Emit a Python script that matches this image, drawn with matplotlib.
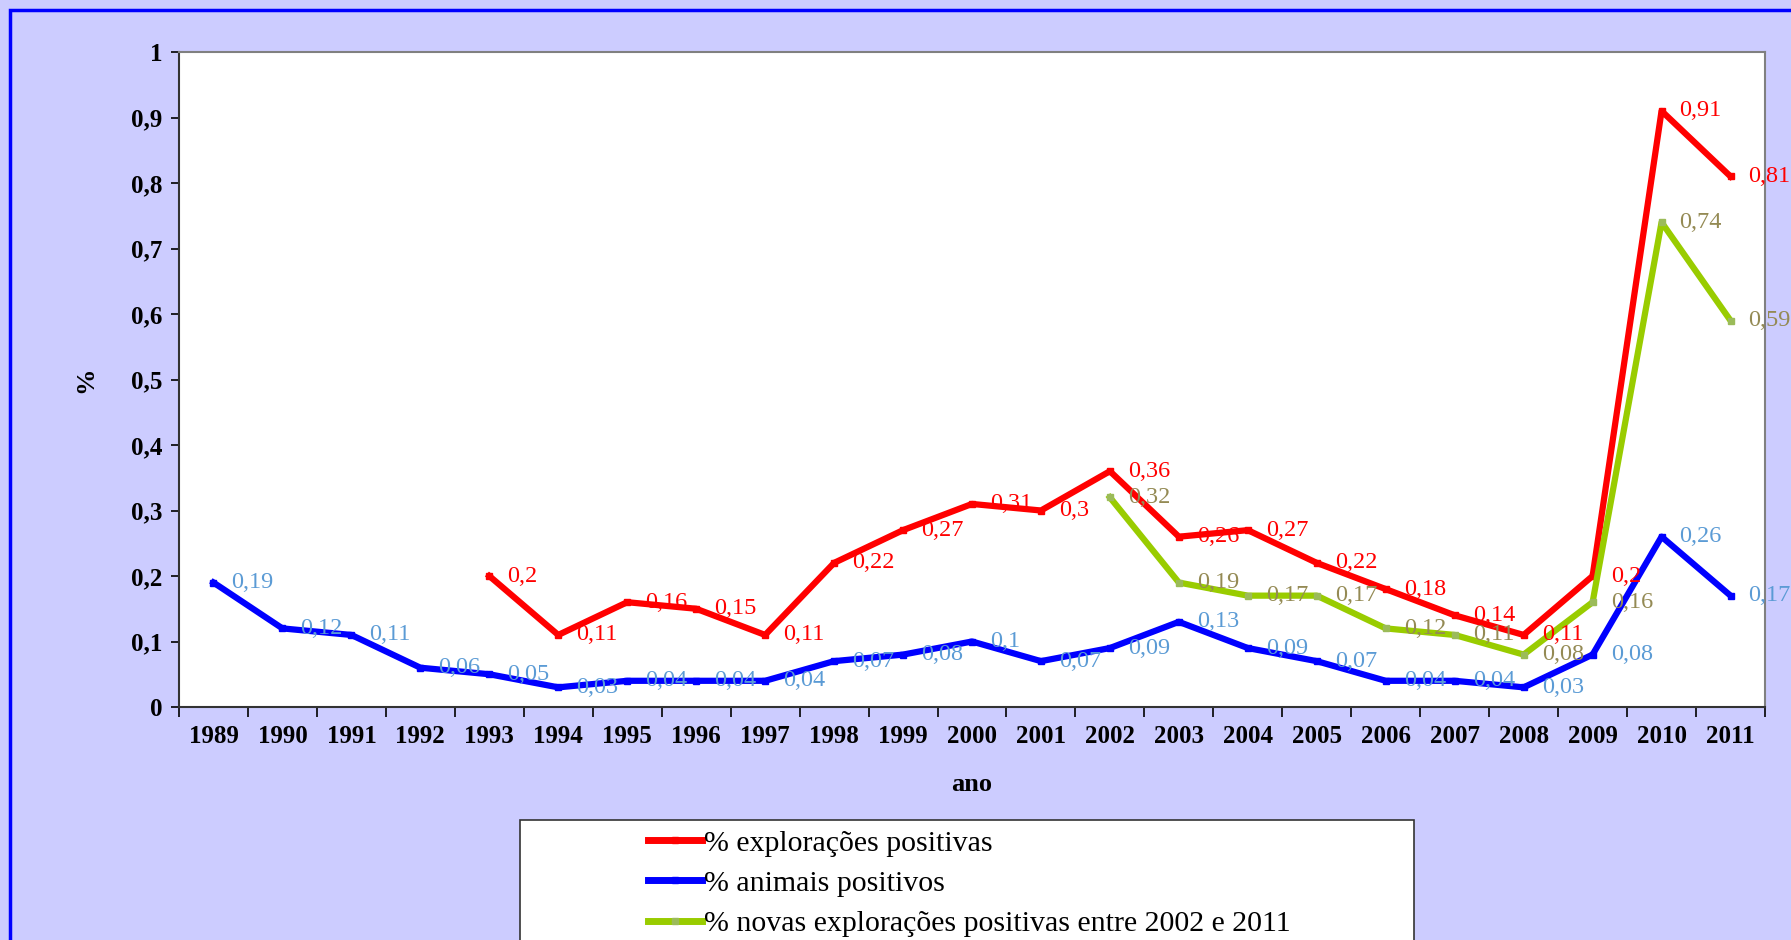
import matplotlib

matplotlib.use('Agg')

import matplotlib.pyplot as plt
from matplotlib.patches import Rectangle

years = [str(y) for y in range(1989, 2012)]

# None where the series has no value
exploracoes = [None, None, None, None, 0.2, 0.11, 0.16, 0.15, 0.11, 0.22, 0.27, 0.31,
               0.3, 0.36, 0.26, 0.27, 0.22, 0.18, 0.14, 0.11, 0.2, 0.91, 0.81]
animais = [0.19, 0.12, 0.11, 0.06, 0.05, 0.03, 0.04, 0.04, 0.04, 0.07, 0.08, 0.1,
           0.07, 0.09, 0.13, 0.09, 0.07, 0.04, 0.04, 0.03, 0.08, 0.26, 0.17]
novas = [None] * 13 + [0.32, 0.19, 0.17, 0.17, 0.12, 0.11, 0.08, 0.16, 0.74, 0.59]

series = [
    ('% explorações positivas', exploracoes, '#FF0000', '#FF0000', '#FF0000'),
    ('% animais positivos', animais, '#0000FF', '#0000FF', '#5B9BD5'),
    ('% novas explorações positivas entre 2002 e 2011', novas, '#99CC00', '#9BBB59', '#948A54'),
]

plt.rcParams['font.family'] = ['Liberation Serif', 'DejaVu Serif']

W, H = 1791, 940
fig = plt.figure(figsize=(W / 100, H / 100), dpi=100, facecolor='#CCCCFF')

# blue outer frame (runs past the right and bottom edges)
fig.patches.append(Rectangle((10 / W, -0.1), 1.2, 1 - 10 / H + 0.1, transform=fig.transFigure,
                             facecolor='none', edgecolor='#0000FF', linewidth=2.5, zorder=0))

ax = fig.add_axes([179 / W, 1 - 707 / H, (1765 - 179) / W, (707 - 52) / H])
ax.set_facecolor('white')

x = list(range(len(years)))
handles = []
for name, vals, lc, mc, tc in series:
    xs = [i for i, v in zip(x, vals) if v is not None]
    ys = [v for v in vals if v is not None]
    h, = ax.plot(xs, ys, color=lc, linewidth=4.5, marker='s', markersize=5,
                 markerfacecolor=mc, markeredgecolor=mc, label=name, zorder=3)
    handles.append(h)
    for xi, yi in zip(xs, ys):
        ax.annotate(('%g' % yi).replace('.', ','), (xi, yi), xytext=(13, 0),
                    textcoords='offset points', color=tc, fontsize=17.5,
                    ha='left', va='center', annotation_clip=False, zorder=4)

ax.set_xlim(-0.5, len(years) - 0.5)
ax.set_ylim(0, 1)
ax.set_yticks([i / 10 for i in range(11)])
ax.set_yticklabels(['0'] + ['0,%d' % i for i in range(1, 10)] + ['1'],
                   fontsize=18, fontweight='bold')
ax.set_xticks(x)
ax.set_xticklabels(years, fontsize=18, fontweight='bold')
ax.set_xticks([i - 0.5 for i in range(len(years) + 1)], minor=True)
ax.tick_params(axis='x', which='major', length=0, pad=13)
ax.tick_params(axis='x', which='minor', length=7, width=1.2, direction='out')
ax.tick_params(axis='y', length=6, width=1.2, direction='out', pad=6)

for s in ['left', 'bottom']:
    ax.spines[s].set_color('#333333')
    ax.spines[s].set_linewidth(1.5)
for s in ['top', 'right']:
    ax.spines[s].set_color('#808080')
    ax.spines[s].set_linewidth(1.5)

ax.set_xlabel('ano', fontsize=19, fontweight='bold', labelpad=18)
ax.set_ylabel('%', fontsize=19, fontweight='bold', labelpad=24)

# legend box
fig.patches.append(Rectangle((520 / W, -0.1), (1414 - 520) / W, 0.1 + 1 - 820 / H,
                             transform=fig.transFigure, facecolor='white',
                             edgecolor='#333333', linewidth=1.2, zorder=1))
leg = fig.legend(handles=handles, loc='upper left', bbox_to_anchor=(648 / W, 1 - 830 / H),
                 frameon=False, fontsize=21.5, handlelength=1.8, handletextpad=0.08,
                 labelspacing=0.44, borderpad=0, borderaxespad=0)
for lh in leg.legend_handles:
    lh.set_markersize(4)
    lh.set_linewidth(5)

fig.savefig('out.png', dpi=100, facecolor=fig.get_facecolor())
